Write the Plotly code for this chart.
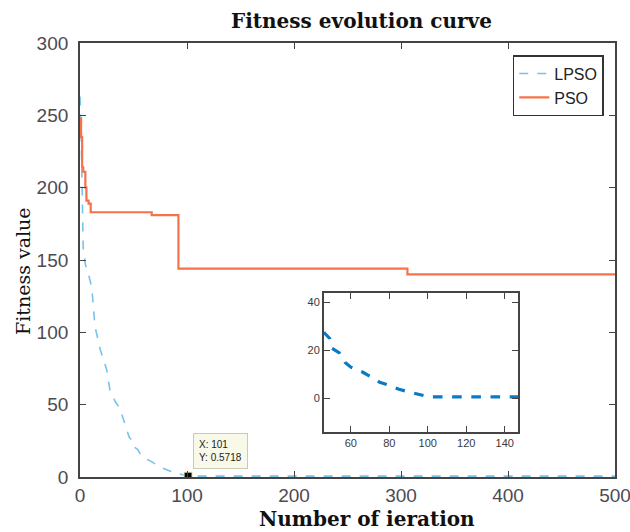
import plotly.graph_objects as go

# LPSO (shared by main plot and zoomed inset)
lpso_x = [0, 1, 2, 3, 5, 8, 11, 14, 19, 25, 28, 33, 37, 42, 46, 49, 50, 54, 57, 60,
          66, 71, 75, 80, 85, 91, 96, 101, 500]
lpso_y = [263, 240, 200, 158, 147, 140, 131, 104, 88, 74, 60, 52, 48, 37, 27.5, 25, 21,
          19, 15, 13, 11, 8.7, 6.7, 5.4, 3.8, 2.5, 1.7, 0.5718, 0.5718]

# PSO (step curve)
pso_x = [0, 1, 2, 3, 5, 6, 8, 10, 67, 92, 306, 500]
pso_y = [248, 235, 214, 211, 200, 191, 189, 183, 181, 144, 140, 140]

tip_x = [101]
tip_y = [0.5718]

x_ticks = [0, 100, 200, 300, 400, 500]
y_ticks = [0, 50, 100, 150, 200, 250, 300]
inset_x_ticks = [60, 80, 100, 120, 140]
inset_y_ticks = [0, 20, 40]

fig = go.Figure()
fig.add_trace(go.Scatter(x=lpso_x, y=lpso_y, mode="lines", name="LPSO",
                         line=dict(color="#78c3ea", width=1.6, dash="dash")))
fig.add_trace(go.Scatter(x=pso_x, y=pso_y, mode="lines", name="PSO", line_shape="hv",
                         line=dict(color="#f7714a", width=2.2)))
fig.add_trace(go.Scatter(x=tip_x, y=tip_y, mode="markers", showlegend=False,
                         marker=dict(symbol="square", size=8, color="black",
                                     line=dict(color="#eef0c0", width=1))))
fig.add_trace(go.Scatter(x=lpso_x, y=lpso_y, mode="lines", showlegend=False,
                         xaxis="x2", yaxis="y2",
                         line=dict(color="#0a7ac6", width=3.2, dash="dash")))

axis_common = dict(showline=True, linecolor="#444", linewidth=1.8, mirror="ticks",
                   ticks="inside", tickcolor="#444", ticklen=6, showgrid=False,
                   zeroline=False, ticklabeloverflow="allow", automargin=False)

fig.update_layout(
    width=630, height=532,
    margin=dict(l=80, r=15, t=43, b=55),
    plot_bgcolor="white", paper_bgcolor="white",
    showlegend=True,
    legend=dict(x=0.979, y=0.972, xanchor="right", yanchor="top",
                bgcolor="white", bordercolor="#333", borderwidth=1.5,
                font=dict(family="Liberation Sans", size=16, color="#222"),
                tracegroupgap=0),
    xaxis=dict(range=[0, 500], tickvals=x_ticks, domain=[0, 1],
               tickfont=dict(family="Liberation Sans", size=19, color="#4e4a52"),
               **axis_common),
    yaxis=dict(range=[0, 300], tickvals=y_ticks, domain=[0, 1], ticklabelstandoff=6,
               tickfont=dict(family="Liberation Sans", size=19, color="#4e4a52"),
               **axis_common),
    xaxis2=dict(range=[46, 147], tickvals=inset_x_ticks, domain=[0.456, 0.819],
                anchor="y2",
                tickfont=dict(family="Liberation Sans", size=11, color="#3a3a3a"),
                **axis_common),
    yaxis2=dict(range=[-14, 44], tickvals=inset_y_ticks, domain=[0.104, 0.424],
                anchor="x2",
                tickfont=dict(family="Liberation Sans", size=11, color="#3a3a3a"),
                **axis_common),
)

fig.add_annotation(text="<b>Fitness evolution curve</b>", xref="paper", yref="paper",
                   x=(361 - 80) / 535, y=(477 - 21) / 434, showarrow=False,
                   xanchor="center", yanchor="middle",
                   font=dict(family="DejaVu Serif", size=20, color="#111"))
fig.add_annotation(text="<b>Number of ieration</b>", xref="paper", yref="paper",
                   x=(367 - 80) / 535, y=(477 - 519) / 434, showarrow=False,
                   xanchor="center", yanchor="middle",
                   font=dict(family="DejaVu Serif", size=20, color="#111"))
fig.add_annotation(text="Fitness value", xref="paper", yref="paper",
                   x=(23 - 80) / 535, y=(477 - 271) / 434, showarrow=False, textangle=-90,
                   xanchor="center", yanchor="middle",
                   font=dict(family="DejaVu Serif", size=19, color="#111"))
fig.add_annotation(text="X: 101<br>Y: 0.5718", x=tip_x[0], y=tip_y[0],
                   xref="x", yref="y", showarrow=False, xanchor="left", yanchor="bottom",
                   xshift=5, yshift=7, align="left", bgcolor="#f8f9e8",
                   bordercolor="#c9cbb5", borderwidth=1, borderpad=5,
                   font=dict(family="Liberation Sans", size=10, color="#222"))

fig.write_html("out.html")
